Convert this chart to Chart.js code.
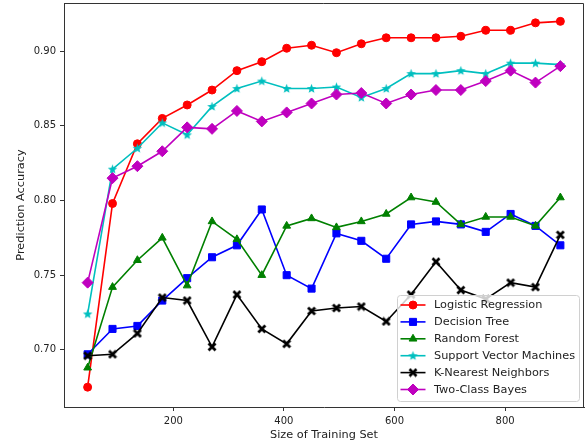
<!DOCTYPE html>
<html>
<head>
<meta charset="utf-8">
<script src="https://cdn.jsdelivr.net/npm/chart.js@4.4.0/dist/chart.umd.min.js"></script>
<style>
  html, body { margin: 0; padding: 0; background: #fff; }
  #wrap { width: 585px; height: 444px; position: relative; }
</style>
</head>
<body>
<div id="wrap"><canvas id="accuracyChart"></canvas></div>
<script>
var trainSizes = [45, 90, 135, 180, 225, 270, 315, 360, 405, 450, 495, 540, 585, 630, 675, 720, 765, 810, 855, 900];
var logReg     = [0.675, 0.798, 0.838, 0.855, 0.864, 0.874, 0.887, 0.893, 0.902, 0.904, 0.899, 0.905, 0.909, 0.909, 0.909, 0.910, 0.914, 0.914, 0.919, 0.920];
var decTree    = [0.697, 0.714, 0.716, 0.733, 0.748, 0.762, 0.770, 0.794, 0.750, 0.741, 0.778, 0.773, 0.761, 0.784, 0.786, 0.784, 0.779, 0.791, 0.783, 0.770];
var randForest = [0.688, 0.742, 0.760, 0.775, 0.743, 0.786, 0.774, 0.750, 0.783, 0.788, 0.782, 0.786, 0.791, 0.802, 0.799, 0.784, 0.789, 0.789, 0.783, 0.802];
var svm        = [0.724, 0.821, 0.835, 0.852, 0.844, 0.863, 0.875, 0.880, 0.875, 0.875, 0.876, 0.869, 0.875, 0.885, 0.885, 0.887, 0.885, 0.892, 0.892, 0.891];
var knn        = [0.696, 0.697, 0.711, 0.735, 0.733, 0.702, 0.737, 0.714, 0.704, 0.726, 0.728, 0.729, 0.719, 0.737, 0.759, 0.740, 0.734, 0.745, 0.742, 0.777];
var bayes      = [0.745, 0.815, 0.823, 0.833, 0.849, 0.848, 0.860, 0.853, 0.859, 0.865, 0.871, 0.872, 0.865, 0.871, 0.874, 0.874, 0.880, 0.887, 0.879, 0.890];

var xTicks = [200, 400, 600, 800];
var yTicks = [0.70, 0.75, 0.80, 0.85, 0.90];
var FONT = 'DejaVu Sans';
var LABEL_SIZE = 11.3;

// little canvases for the markers chart.js has no filled version of
function starMarker(color) {
    var c = document.createElement('canvas');
    c.width = 11; c.height = 11;
    var g = c.getContext('2d');
    g.fillStyle = color;
    g.beginPath();
    for (var i = 0; i < 10; i++) {
        var r = i % 2 === 0 ? 5 : 2.1;
        var a = -Math.PI / 2 + i * Math.PI / 5;
        var px = 5.5 + r * Math.cos(a), py = 5.8 + r * Math.sin(a);
        if (i === 0) g.moveTo(px, py); else g.lineTo(px, py);
    }
    g.closePath();
    g.fill();
    return c;
}
function xMarker(color) {
    var c = document.createElement('canvas');
    c.width = 10; c.height = 10;
    var g = c.getContext('2d');
    g.strokeStyle = color;
    g.lineWidth = 2.8;
    g.beginPath();
    g.moveTo(1.5, 1.5); g.lineTo(8.5, 8.5);
    g.moveTo(8.5, 1.5); g.lineTo(1.5, 8.5);
    g.stroke();
    return c;
}

function series(label, values, color, style, radius, order) {
    return {
        label: label,
        data: values.map(function (v, i) { return { x: trainSizes[i], y: v }; }),
        borderColor: color,
        backgroundColor: color,
        pointBackgroundColor: color,
        pointBorderColor: color,
        pointStyle: style,
        pointRadius: radius,
        pointBorderWidth: 1,
        borderWidth: 1.6,
        tension: 0,
        order: order
    };
}

var datasets = [
    series('Logistic Regression', logReg, '#ff0000', 'circle', 4, 6),
    series('Decision Tree', decTree, '#0000ff', 'rect', 5, 5),
    series('Random Forest', randForest, '#008000', 'triangle', 4.5, 4),
    series('Support Vector Machines', svm, '#00bfbf', starMarker('#00bfbf'), 4, 3),
    series('K-Nearest Neighbors', knn, '#000000', xMarker('#000000'), 4, 2),
    series('Two-Class Bayes', bayes, '#bf00bf', 'rectRot', 5.5, 1)
];

var framePlugin = {
    id: 'frameAndLegend',
    afterDraw: function (chart) {
        var ctx = chart.ctx, ca = chart.chartArea;
        ctx.save();
        // top and right spines
        ctx.strokeStyle = '#333';
        ctx.lineWidth = 1;
        ctx.beginPath();
        ctx.moveTo(ca.left, ca.top + 0.5);
        ctx.lineTo(ca.right - 0.5, ca.top + 0.5);
        ctx.lineTo(ca.right - 0.5, ca.bottom);
        ctx.stroke();

        // legend box, lower right
        ctx.font = LABEL_SIZE + 'px "' + FONT + '"';
        var maxW = 0;
        datasets.forEach(function (d) { maxW = Math.max(maxW, ctx.measureText(d.label).width); });
        var rowH = 16.9;
        var w = 37 + maxW + 4;
        var h = 106;
        var bx = Math.round(ca.right - 5 - w);
        var by = Math.round(ca.bottom - 6 - h);
        ctx.fillStyle = 'rgba(255,255,255,0.8)';
        ctx.strokeStyle = '#d0d0d0';
        ctx.beginPath();
        ctx.roundRect(bx + 0.5, by + 0.5, w, h, 3);
        ctx.fill();
        ctx.stroke();

        datasets.forEach(function (d, i) {
            var cy = by + 10 + i * rowH;
            ctx.strokeStyle = d.borderColor;
            ctx.lineWidth = d.borderWidth;
            ctx.beginPath();
            ctx.moveTo(bx + 3.5, cy);
            ctx.lineTo(bx + 28.5, cy);
            ctx.stroke();
            ctx.fillStyle = d.backgroundColor;
            ctx.strokeStyle = d.borderColor;
            ctx.lineWidth = 1;
            Chart.helpers.drawPoint(ctx, {
                pointStyle: d.pointStyle, radius: d.pointRadius, borderWidth: 1, rotation: 0
            }, bx + 16, cy);
            ctx.fillStyle = '#222';
            ctx.textBaseline = 'middle';
            ctx.textAlign = 'left';
            ctx.fillText(d.label, bx + 37, cy + 0.5);
        });
        ctx.restore();
    }
};

var ctx = document.getElementById('accuracyChart').getContext('2d');
var accuracyChart = new Chart(ctx, {
    type: 'line',
    data: { datasets: datasets },
    options: {
        responsive: true,
        maintainAspectRatio: false,
        animation: false,
        events: [],
        layout: { autoPadding: false, padding: { top: 3, right: 1, left: 0, bottom: 0 } },
        plugins: {
            legend: { display: false },
            tooltip: { enabled: false }
        },
        scales: {
            x: {
                type: 'linear',
                min: 2.25,
                max: 942.75,
                afterFit: function (s) { s.height = 37; s.paddingLeft = 0; s.paddingRight = 0; },
                afterBuildTicks: function (s) { s.ticks = xTicks.map(function (v) { return { value: v }; }); },
                grid: { drawOnChartArea: false, tickLength: 4, color: '#333' },
                border: { color: '#333', width: 1 },
                ticks: {
                    padding: 4,
                    maxRotation: 0,
                    color: '#222',
                    font: { family: FONT, size: 10 }
                },
                title: {
                    display: true,
                    text: 'Size of Training Set',
                    color: '#222',
                    font: { family: FONT, size: LABEL_SIZE },
                    padding: { top: 0, bottom: 2 }
                }
            },
            y: {
                type: 'linear',
                min: 0.6617,
                max: 0.9323,
                afterFit: function (s) { s.width = 64; s.paddingTop = 0; s.paddingBottom = 0; },
                afterBuildTicks: function (s) { s.ticks = yTicks.map(function (v) { return { value: v }; }); },
                grid: { drawOnChartArea: false, tickLength: 4, color: '#333' },
                border: { color: '#333', width: 1 },
                ticks: {
                    padding: 4,
                    color: '#222',
                    font: { family: FONT, size: 10 },
                    callback: function (v) { return v.toFixed(2); }
                },
                title: {
                    display: true,
                    text: 'Prediction Accuracy',
                    color: '#222',
                    font: { family: FONT, size: LABEL_SIZE },
                    padding: { top: 14, bottom: 0 }
                }
            }
        }
    },
    plugins: [framePlugin]
});
</script>
</body>
</html>
